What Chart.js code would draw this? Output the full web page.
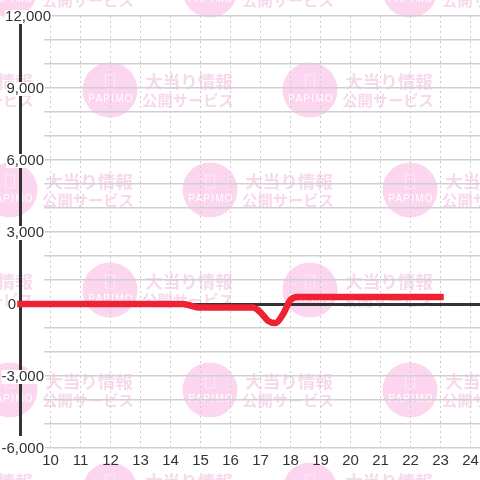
<!DOCTYPE html>
<html>
<head>
<meta charset="utf-8">
<script src="https://cdn.jsdelivr.net/npm/chart.js@4"></script>
<style>
  html, body { margin: 0; padding: 0; background: #fff; }
  canvas { display: block; }
</style>
</head>
<body>
<canvas id="chart" width="480" height="480"></canvas>
<script>
// hours on the x axis
var hourTicks = [10, 11, 12, 13, 14, 15, 16, 17, 18, 19, 20, 21, 22, 23, 24];
var yLabelValues = [12000, 9000, 6000, 3000, 0, -3000, -6000];
var yLabelTexts = ["12,000", "9,000", "6,000", "3,000", "0", "-3,000", "-6,000"];

// slump graph
var hours = [9, 10, 11, 12, 13, 14, 14.4, 15, 16, 16.75, 17, 17.25, 17.5, 17.75, 18, 18.25, 19, 20, 21, 22, 23];
var medals = [0, 0, 0, 0, 0, 0, 0, -150, -150, -150, -350, -700, -790, -430, 170, 290, 290, 290, 290, 290, 290];

var yAxisEnds = [11667, -5500];

var points = [];
for (var i = 0; i < hours.length; i++) {
  points.push({ x: hours[i], y: medals[i] });
}

// pink background stamps, they sit under everything
var watermark = {
  id: "watermark",
  beforeDraw: function (chart) {
    var ctx = chart.ctx;
    ctx.save();
    ctx.fillStyle = "#fff";
    ctx.fillRect(0, 0, 480, 480);
    for (var row = 0; row < 6; row++) {
      var cy = -10 + row * 100;
      for (var col = 0; col < 4; col++) {
        var cx = (row % 2 == 0 ? 10 : -90) + col * 200;
        ctx.fillStyle = "#fcd5ee";
        ctx.beginPath();
        ctx.arc(cx, cy, 27.5, 0, Math.PI * 2);
        ctx.fill();

        ctx.strokeStyle = "#fdeaf6";
        ctx.lineWidth = 1;
        ctx.strokeRect(cx - 4.5, cy - 15, 9, 13);

        ctx.fillStyle = "#fff";
        ctx.font = "10px 'Liberation Sans'";
        ctx.letterSpacing = "1.2px";
        ctx.textAlign = "center";
        ctx.textBaseline = "middle";
        ctx.fillText("PAPIMO", cx + 1, cy + 9);

        ctx.letterSpacing = "0px";
        ctx.fillStyle = "#f7d9ec";
        ctx.font = "bold 17.5px 'Noto Sans CJK JP'";
        ctx.fillText("大当り情報", cx + 79, cy - 9);
        ctx.font = "bold 15.3px 'Noto Sans CJK JP'";
        ctx.fillText("公開サービス", cx + 78, cy + 10);
      }
    }
    ctx.restore();
  }
};

// the heavy y axis sits left of the plot, its labels go on top with a white box
var yAxisBar = {
  id: "yAxisBar",
  beforeDatasetsDraw: function (chart) {
    var ctx = chart.ctx;
    var y = chart.scales.y;
    ctx.save();
    ctx.strokeStyle = "#333";
    ctx.lineWidth = 3;
    ctx.beginPath();
    ctx.moveTo(20.5, y.getPixelForValue(yAxisEnds[0]));
    ctx.lineTo(20.5, y.getPixelForValue(yAxisEnds[1]));
    ctx.stroke();
    ctx.restore();
  },
  afterDatasetsDraw: function (chart) {
    var ctx = chart.ctx;
    var y = chart.scales.y;
    ctx.save();
    ctx.font = "15px 'Liberation Sans'";
    ctx.textAlign = "right";
    ctx.textBaseline = "middle";
    for (var i = 0; i < yLabelValues.length; i++) {
      var right = 44;
      if (yLabelValues[i] == 12000) right = 51;
      if (yLabelValues[i] == 0) right = 16;
      var py = y.getPixelForValue(yLabelValues[i]);
      var w = ctx.measureText(yLabelTexts[i]).width;
      ctx.fillStyle = "#fff";
      ctx.fillRect(right - w, py - 6, w + 1, 14);
      ctx.fillStyle = "#333";
      ctx.fillText(yLabelTexts[i], right, py + 1);
    }
    ctx.restore();
  }
};

new Chart(document.getElementById("chart"), {
  type: "line",
  data: {
    datasets: [{
      data: points,
      borderColor: "#ee2233",
      borderWidth: 6.5,
      borderCapStyle: "square",
      cubicInterpolationMode: "monotone",
      pointRadius: 0,
      clip: false
    }]
  },
  options: {
    responsive: false,
    animation: false,
    layout: { padding: { top: 16, left: 0, right: 0, bottom: 0 } },
    plugins: { legend: { display: false }, tooltip: { enabled: false } },
    scales: {
      x: {
        type: "linear",
        min: 9.783,
        max: 24.317,
        afterBuildTicks: function (scale) {
          scale.ticks = hourTicks.map(function (h) { return { value: h }; });
        },
        afterFit: function (scale) {
          scale.height = 32;
          scale.paddingLeft = 0;
          scale.paddingRight = 0;
        },
        grid: {
          color: "#cccccc",
          lineWidth: 1,
          drawTicks: false
        },
        border: { display: false, dash: [2, 3] },
        ticks: {
          autoSkip: false,
          maxRotation: 0,
          padding: 4,
          color: "#333",
          font: { family: "'Liberation Sans'", size: 15 }
        }
      },
      y: {
        min: -6000,
        max: 12000,
        afterFit: function (scale) { scale.width = 44; },
        grid: {
          drawTicks: false,
          color: function (c) { return c.tick.value === 0 ? "#333" : "#d0d0d0"; },
          lineWidth: function (c) { return c.tick.value === 0 ? 3 : 1.5; }
        },
        border: { display: false },
        ticks: { stepSize: 1000, display: false }
      }
    }
  },
  plugins: [watermark, yAxisBar]
});
</script>
</body>
</html>
